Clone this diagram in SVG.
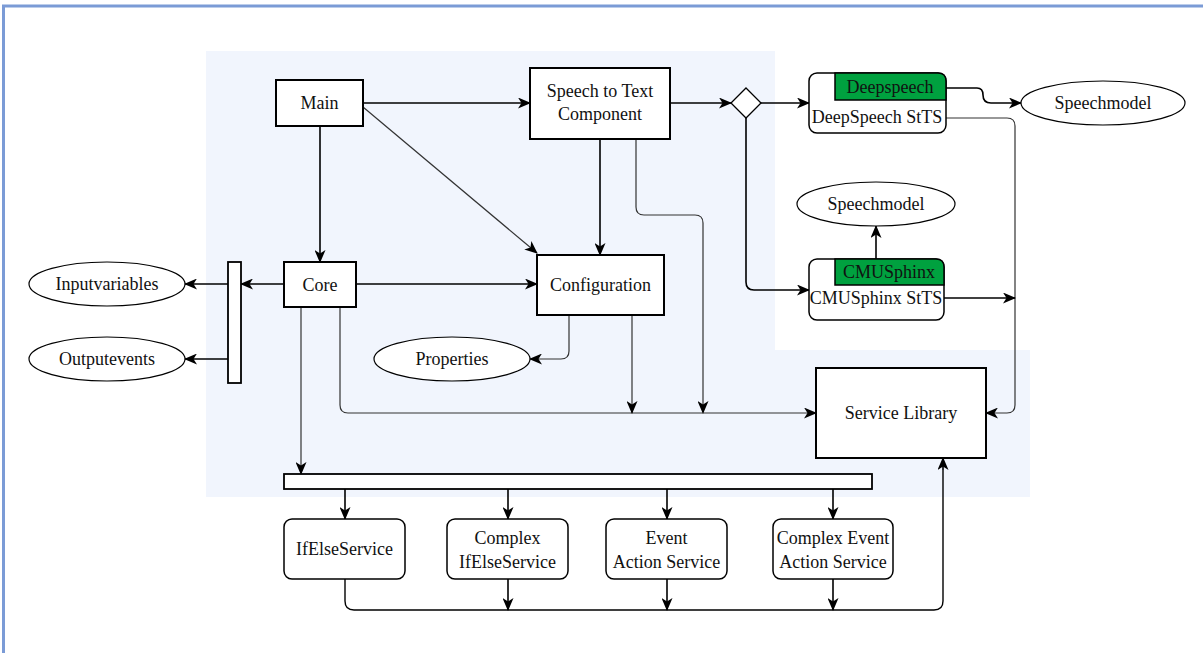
<svg xmlns="http://www.w3.org/2000/svg" width="1203" height="653" viewBox="0 0 1203 653" font-family="'Liberation Serif', 'DejaVu Serif', serif">
  <defs>
    <marker id="arr" viewBox="0 0 13 11" markerWidth="13" markerHeight="11" refX="12" refY="5.5" orient="auto" markerUnits="userSpaceOnUse">
      <path d="M0,0 L13,5.5 L0,11 L3.5,5.5 z" fill="#000"/>
    </marker>
    <style>
      .box { fill: #fff; stroke: #000; stroke-width: 2; }
      .rbox { fill: #fff; stroke: #000; stroke-width: 1.5; }
      .tab { fill: #00a13f; stroke: #000; stroke-width: 1.5; }
      .ell { fill: #fff; stroke: #000; stroke-width: 1.2; }
      .bar { fill: #fff; stroke: #000; stroke-width: 1.8; }
      .c { fill: none; stroke: #000; stroke-width: 1.6; marker-end: url(#arr); }
      .t { fill: none; stroke: #333; stroke-width: 1.2; marker-end: url(#arr); }
      .n { fill: none; stroke: #000; stroke-width: 1.4; }
      .lbl { font-family: 'Liberation Serif', 'DejaVu Serif', serif; font-size: 18px; fill: #111; text-anchor: middle; dominant-baseline: central; }
    </style>
  </defs>

  <!-- page frame -->
  <path d="M3.5,653 L3.5,6 L1203,6" fill="none" stroke="#7b9bd6" stroke-width="3"/>

  <!-- shaded area -->
  <path d="M206,51 L775,51 L775,350 L1030,350 L1030,497 L206,497 z" fill="#f1f5fd"/>

  <!-- connectors -->
  <g id="connectors">
    <path class="c" d="M363,103 L530,103"/>
    <path class="c" d="M670,103 L731,103"/>
    <path class="c" d="M761,103 L809,103"/>
    <path class="c" d="M746,118 L746,282 Q746,290 754,290 L809,290"/>
    <path class="c" d="M946,88 L977,88 Q983,88 983,95 Q983,103 991,103 L1021,103"/>
    <path class="t" d="M946,118 L1007,118 Q1015,118 1015,126 L1015,405 Q1015,413 1007,413 L986,413"/>
    <path class="c" d="M876,259 L876,226"/>
    <path class="c" d="M944,298 L1015,298"/>
    <path class="c" d="M320,126 L320,262"/>
    <path class="t" d="M363,107 L537,253"/>
    <path class="c" d="M600,139 L600,255"/>
    <path class="t" d="M636,139 L636,207 Q636,215 644,215 L695,215 Q703,215 703,223 L703,413"/>
    <path class="c" d="M356,284 L537,284"/>
    <path class="c" d="M284,284 L241,284"/>
    <path class="c" d="M228,284 L185,284"/>
    <path class="c" d="M228,359 L185,359"/>
    <path class="t" d="M340,307 L340,405 Q340,413 348,413 L816,413"/>
    <path class="t" d="M301,307 L301,474"/>
    <path class="t" d="M569,315 L569,351 Q569,359 561,359 L530,359"/>
    <path class="t" d="M632,315 L632,413"/>
    <path class="c" d="M345,489 L345,519"/>
    <path class="c" d="M508,489 L508,519"/>
    <path class="c" d="M667,489 L667,519"/>
    <path class="c" d="M833,489 L833,519"/>
    <path class="n" d="M345,579 L345,601 Q345,610 354,610 L934,610 Q943,610 943,601 L943,470"/>
    <path class="c" d="M943,470 L943,458"/>
    <path class="c" d="M508,579 L508,610"/>
    <path class="c" d="M667,579 L667,610"/>
    <path class="c" d="M833,579 L833,610"/>
  </g>

  <g id="main">
    <rect class="box" x="276" y="80" width="87" height="46"/>
    <text class="lbl" x="319.5" y="103">Main</text>
  </g>

  <g id="speech-to-text">
    <rect class="box" x="530" y="68" width="140" height="71"/>
    <text class="lbl" x="600" y="91">Speech to Text</text>
    <text class="lbl" x="600" y="114">Component</text>
  </g>

  <g id="switch">
    <path d="M746,88 L761,103 L746,118 L731,103 z" fill="#fff" stroke="#000" stroke-width="1.3"/>
  </g>

  <g id="deepspeech">
    <rect class="rbox" x="809" y="73" width="137" height="60" rx="8"/>
    <path class="tab" d="M835,73 L938,73 Q946,73 946,81 L946,100 L835,100 z"/>
    <text class="lbl" x="890" y="86.5">Deepspeech</text>
    <text class="lbl" x="877" y="117">DeepSpeech StTS</text>
  </g>

  <g id="speechmodel1">
    <ellipse class="ell" cx="1103" cy="103" rx="82" ry="22"/>
    <text class="lbl" x="1103" y="103">Speechmodel</text>
  </g>

  <g id="speechmodel2">
    <ellipse class="ell" cx="876" cy="204" rx="79" ry="22"/>
    <text class="lbl" x="876" y="204">Speechmodel</text>
  </g>

  <g id="cmusphinx">
    <rect class="rbox" x="809" y="259" width="135" height="61" rx="8"/>
    <path class="tab" d="M835,259 L936,259 Q944,259 944,267 L944,285 L835,285 z"/>
    <text class="lbl" x="889" y="272">CMUSphinx</text>
    <text class="lbl" x="876" y="298">CMUSphinx StTS</text>
  </g>

  <g id="core">
    <rect class="box" x="284" y="262" width="72" height="45"/>
    <text class="lbl" x="320" y="284.5">Core</text>
  </g>

  <g id="configuration">
    <rect class="box" x="537" y="255" width="127" height="60"/>
    <text class="lbl" x="600.5" y="284.5">Configuration</text>
  </g>

  <g id="io-bar">
    <rect class="bar" x="228" y="262" width="13" height="121"/>
  </g>

  <g id="inputvariables">
    <ellipse class="ell" cx="107" cy="284" rx="78" ry="22"/>
    <text class="lbl" x="107" y="284">Inputvariables</text>
  </g>

  <g id="outputevents">
    <ellipse class="ell" cx="107" cy="359" rx="78" ry="22"/>
    <text class="lbl" x="107" y="359">Outputevents</text>
  </g>

  <g id="properties">
    <ellipse class="ell" cx="452" cy="359" rx="78" ry="22"/>
    <text class="lbl" x="452" y="359">Properties</text>
  </g>

  <g id="service-library">
    <rect class="box" x="816" y="368" width="170" height="90"/>
    <text class="lbl" x="901" y="413">Service Library</text>
  </g>

  <g id="service-bar">
    <rect class="bar" x="284" y="474" width="588" height="15"/>
  </g>

  <g id="ifelse">
    <rect class="rbox" x="284" y="519" width="121" height="60" rx="8"/>
    <text class="lbl" x="344.5" y="549">IfElseService</text>
  </g>

  <g id="complex-ifelse">
    <rect class="rbox" x="447" y="519" width="121" height="60" rx="8"/>
    <text class="lbl" x="507.5" y="538">Complex</text>
    <text class="lbl" x="507.5" y="562">IfElseService</text>
  </g>

  <g id="event-action">
    <rect class="rbox" x="606" y="519" width="121" height="60" rx="8"/>
    <text class="lbl" x="666.5" y="538">Event</text>
    <text class="lbl" x="666.5" y="562">Action Service</text>
  </g>

  <g id="complex-event-action">
    <rect class="rbox" x="773" y="519" width="120" height="60" rx="8"/>
    <text class="lbl" x="833" y="538">Complex Event</text>
    <text class="lbl" x="833" y="562">Action Service</text>
  </g>
</svg>
